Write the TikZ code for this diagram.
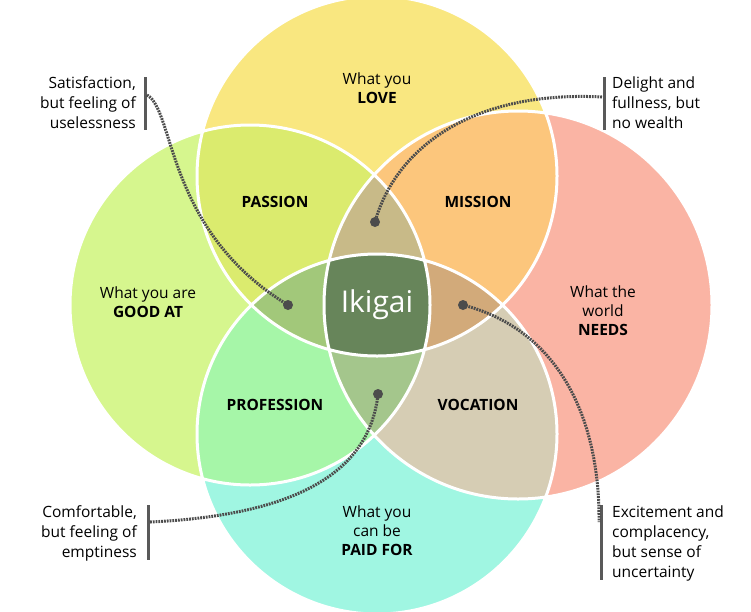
\documentclass[tikz,border=0pt]{standalone}
\usepackage{fontspec}
\setmainfont{Open Sans}
\begin{document}
\begin{tikzpicture}[x=1pt,y=-1pt,
  lbl/.style={font=\fontsize{15.5}{19}\selectfont,align=center,inner sep=0},
  bold/.style={font=\fontsize{15.5}{19}\selectfont\bfseries,inner sep=0},
  note/.style={font=\fontsize{15.5}{20}\selectfont,inner sep=0},
  bar/.style={draw=black!65,line width=3pt},
  dot/.style={circle,fill=black!70,minimum size=10pt,inner sep=0},
  link/.style={black!70,line width=3pt,dash pattern=on 1.8pt off 1pt}]
\useasboundingbox (0,0) rectangle (751,611);
\def\T{(377,176) circle (180)}
\def\B{(377,434) circle (180)}
\def\L{(250,305) circle (180)}
\def\R{(518,305) circle (194)}
\fill[fill={rgb,255:red,249;green,231;blue,128}] \T;
\fill[fill={rgb,255:red,214;green,246;blue,142}] \L;
\fill[fill={rgb,255:red,250;green,180;blue,164}] \R;
\fill[fill={rgb,255:red,160;green,246;blue,226}] \B;
\begin{scope}\clip \T; \fill[fill={rgb,255:red,219;green,235;blue,110}] \L; \end{scope}
\begin{scope}\clip \T; \fill[fill={rgb,255:red,252;green,198;blue,124}] \R; \end{scope}
\begin{scope}\clip \B; \fill[fill={rgb,255:red,166;green,246;blue,168}] \L; \end{scope}
\begin{scope}\clip \B; \fill[fill={rgb,255:red,214;green,205;blue,180}] \R; \end{scope}
\begin{scope}\clip \T; \clip \L; \fill[fill={rgb,255:red,162;green,200;blue,122}] \R; \end{scope}
\begin{scope}\clip \T; \clip \L; \fill[fill={rgb,255:red,162;green,200;blue,122}] \B; \end{scope}
\begin{scope}\clip \T; \clip \R; \fill[fill={rgb,255:red,200;green,186;blue,136}] \L; \end{scope}
\begin{scope}\clip \T; \clip \R; \fill[fill={rgb,255:red,210;green,170;blue,122}] \B; \end{scope}
\begin{scope}\clip \B; \clip \L; \fill[fill={rgb,255:red,164;green,198;blue,140}] \R; \end{scope}
\begin{scope}\clip \T; \clip \B; \clip \L; \fill[fill={rgb,255:red,103;green,133;blue,90}] \R; \end{scope}
\draw[white,line width=3pt] \T \L \R \B;
\node[lbl] at (377,88) {What you\\\textbf{LOVE}};
\node[bold] at (275,202) {PASSION};
\node[bold] at (478,202) {MISSION};
\node[lbl] at (148,302) {What you are\\\textbf{GOOD AT}};
\node[lbl] at (603,311) {What the\\world\\\textbf{NEEDS}};
\node[bold] at (275,405) {PROFESSION};
\node[bold] at (478,405) {VOCATION};
\node[lbl] at (377,531) {What you\\can be\\\textbf{PAID FOR}};
\node[text=white,font=\fontsize{30}{32}\selectfont] (ik) at (377,305) {Ikigai};
% notes
\node[note,anchor=east,align=right] (n1) at (136,103) {Satisfaction,\\but feeling of\\uselessness};
\node[note,anchor=west,align=left] (n2) at (612,103) {Delight and\\fullness, but\\no wealth};
\node[note,anchor=east,align=right] (n3) at (137,533) {Comfortable,\\but feeling of\\emptiness};
\node[note,anchor=west,align=left] (n4) at (612,543) {Excitement and\\complacency,\\but sense of\\uncertainty};
\draw[bar] (145,77) -- (145,130); \coordinate (b1) at (147,95);
\draw[bar] (604,77) -- (604,130); \coordinate (b2) at (602,97);
\draw[bar] (148,505) -- (148,560); \coordinate (b3) at (150,522);
\draw[bar] (601,505) -- (601,580); \coordinate (b4) at (599,522);
\node[dot] (d1) at (288,305) {};
\node[dot] (d2) at (375,222) {};
\node[dot] (d3) at (378,394) {};
\node[dot] (d4) at (463,305) {};
\draw[link] (b1) .. controls (175,110) and (165,230) .. (d1.center);
\draw[link] (b2) .. controls (470,90) and (395,150) .. (d2.center);
\draw[link] (b3) .. controls (300,515) and (370,470) .. (d3.center);
\draw[link] (d4.center) .. controls (560,330) and (600,420) .. (b4);
\end{tikzpicture}
\end{document}
